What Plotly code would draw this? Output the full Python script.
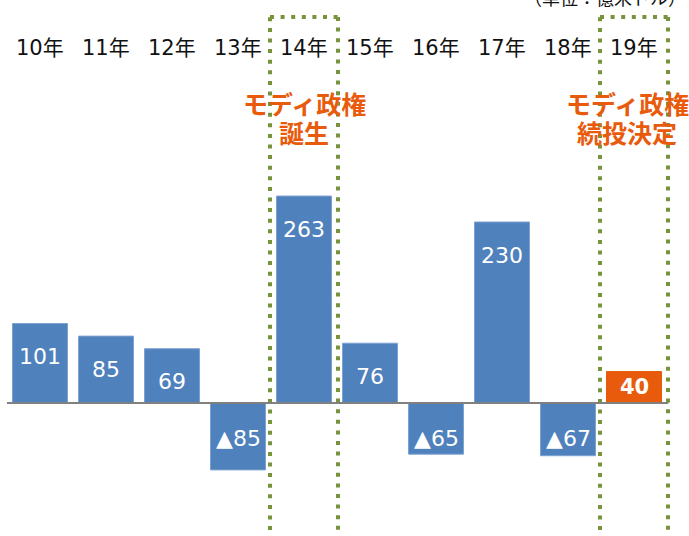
import plotly.graph_objects as go

categories = ["10年", "11年", "12年", "13年", "14年", "15年", "16年", "17年", "18年", "19年"]
values = [101, 85, 69, -85, 263, 76, -65, 230, -67, 40]
highlight = [False] * 9 + [True]
events = [(4, ["モディ政権", "誕生"], 0), (9, ["モディ政権", "続投決定"], -7)]
unit_text = "（単位：億米ドル）"

BLUE = "#4F81BD"
ORANGE = "#E95B0C"
GREEN = "#77933C"

colors = [ORANGE if h else BLUE for h in highlight]
line_colors = [ORANGE if h else "#7EA2D2" for h in highlight]

fig = go.Figure()
fig.add_trace(go.Bar(
    x=categories, y=values,
    marker=dict(color=colors, line=dict(color=line_colors, width=1)),
    hoverinfo="skip",
))

W = 689
H = 536
T = 10
L = 7
R = 12
PH = H - T
PW = W - L - R
STEP = 66.0


def py(p):
    return (H - p) / PH


def px(p):
    return (p - L) / PW


annotations = []
num_font = "DejaVu Sans, Noto Sans CJK JP"
for i, (c, v, h) in enumerate(zip(categories, values, highlight)):
    label = ("▲" + str(abs(v))) if v < 0 else str(v)
    if h:
        annotations.append(dict(x=c, y=v / 2, text="<b>" + label + "</b>", showarrow=False,
                                font=dict(color="white", size=21, family=num_font),
                                xref="x", yref="y", yanchor="middle"))
    elif v >= 0:
        annotations.append(dict(x=c, y=v, yshift=-33, text=label, showarrow=False,
                                font=dict(color="white", size=22, family=num_font),
                                xref="x", yref="y", yanchor="middle"))
    else:
        annotations.append(dict(x=c, y=0, yshift=-35, text=label, showarrow=False,
                                font=dict(color="white", size=22, family=num_font),
                                xref="x", yref="y", yanchor="middle"))
    annotations.append(dict(x=c, y=py(48), text=c, showarrow=False,
                            font=dict(color="#111111", size=21, family=num_font),
                            xref="x", yref="paper", yanchor="middle"))

for idx, lines, xs in events:
    for k, txt in enumerate(lines):
        annotations.append(dict(x=idx, y=py(103 + 29 * k), text="<b>" + txt + "</b>", showarrow=False,
                                xshift=xs,
                                font=dict(color=ORANGE, size=25, family="Noto Sans CJK JP"),
                                xref="x", yref="paper", yanchor="middle"))

annotations.append(dict(x=px(688), y=py(-3), text=unit_text, showarrow=False,
                        font=dict(color="#111111", size=18, family="Noto Sans CJK JP"),
                        xref="paper", yref="paper", xanchor="right", yanchor="middle"))

shapes = []
half = 0.515
top = 490.5
bottom = -175
dash = dict(color=GREEN, width=4, dash="4px,6.6px")
for idx, _, _ in events:
    x0, x1 = idx - half, idx + half
    shapes.append(dict(type="line", xref="x", yref="y", x0=x0, x1=x0, y0=bottom, y1=top, line=dash))
    shapes.append(dict(type="line", xref="x", yref="y", x0=x0, x1=x1, y0=top, y1=top, line=dash))
    shapes.append(dict(type="line", xref="x", yref="y", x0=x1, x1=x1, y0=top, y1=bottom, line=dash))

fig.update_layout(
    width=W, height=H,
    margin=dict(l=L, r=R, t=T, b=0),
    paper_bgcolor="white", plot_bgcolor="white",
    showlegend=False,
    bargap=0.167,
    annotations=annotations,
    shapes=shapes,
    xaxis=dict(type="category", showticklabels=False, showgrid=False, zeroline=False,
               showline=False, ticks="", range=[-0.5, -0.5 + PW / STEP]),
    yaxis=dict(range=[-169.0, 499.4], showticklabels=False, showgrid=False,
               zeroline=False, showline=False, ticks=""),
)
# baseline across the category span only (as in the reference)
fig.add_shape(type="line", xref="x", yref="y", x0=-0.53, x1=9.52, y0=0, y1=0,
              line=dict(color="#808080", width=2), layer="above")

fig.write_html("out.html", config={"displayModeBar": False},
               post_script="document.body.style.margin='0';document.body.style.overflow='hidden';")
